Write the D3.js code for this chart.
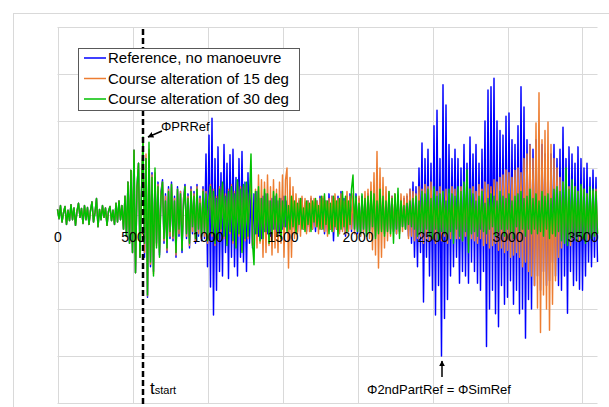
<!DOCTYPE html>
<html>
<head>
<meta charset="utf-8">
<script src="https://cdn.jsdelivr.net/npm/d3@7"></script>
<style>
  body { margin: 0; background: #fff; }
  text { font-family: "Liberation Sans", Arial, sans-serif; }
</style>
</head>
<body>
<div id="chart"></div>
<script>
// sample spacing of the recorded signals (time units on x axis)
const step = 10;
const xTicks = [0, 500, 1000, 1500, 2000, 2500, 3000, 3500];
const yGrid = [-4, -3, -2, -1, 0, 1, 2, 3, 4];
const tStart = 570;
const seriesNames = ["Reference, no manoeuvre", "Course alteration of 15 deg", "Course alteration of 30 deg"];
const seriesColors = ["#0000ff", "#ed7d31", "#00c000"];

// identical for all three runs before tstart (t = 0 .. 560)
const preStart = [
  0.12, -0.08, 0.2, -0.15, 0.05, 0.18, -0.2, 0.1, -0.12, 0.22,
  -0.1, 0.15, -0.22, 0.08, 0.25, -0.05, 0.14, -0.18, 0.2, -0.1,
  0.16, -0.2, 0.1, 0.28, -0.15, 0.05, 0.35, -0.25, 0.12, -0.1,
  0.2, -0.05, 0.15, -0.22, 0.08, 0.18, -0.12, 0.1, -0.2, 0.25,
  -0.15, 0.3, -0.1, 0.2, -0.3, 0.4, -0.45, 0.7, -0.6, 0.95,
  -0.8, 1.38, -1.23, 0.6, 1.1, -0.9, 0.5
];

// t = 570 .. 3600
const blueAfter = [
  1.5, -0.9, 1.2, -1.75, 1.3, -1.1, 0.9, -1.2, 0.8, -0.6,
  0.7, -0.85, 0.5, 0.75, -0.6, 0.45, -0.8, 0.6, -0.5, 0.7,
  -0.55, 0.4, -0.9, 0.6, -0.45, 0.5, -0.8, 0.35, 0.65, -0.5,
  0.45, -0.7, 0.6, -0.4, 0.5, -0.6, 0.65, -0.45, 0.4, -0.55,
  0.6, -0.5, 1.3, -1.1, 1.7, -1.53, 2.06, -2.13, 1.2, -1.6,
  1.45, -1.2, 0.9, -1.3, 1.5, -0.8, 1.1, -1.35, 1.28, -0.9,
  1.4, -1.1, 0.8, -1.3, 1.2, -0.9, 1.35, -1.0, 0.7, -1.2,
  0.9, -0.6, 0.5, -0.7, 0.45, -0.4, 0.5, -0.45, 0.35, -0.5,
  0.4, -0.35, 0.45, -0.4, 0.3, -0.45, 0.35, -0.3, 0.4, -0.35,
  0.3, -0.4, 0.35, -0.3, 0.4, -0.25, 0.3, -0.35, 0.25, -0.3,
  0.35, -0.3, 0.25, -0.35, 0.3, -0.2, 0.35, -0.3, 0.25, -0.35,
  0.3, -0.25, 0.35, -0.3, 0.25, -0.35, 0.3, -0.2, 0.4, -0.3,
  0.35, -0.4, 0.3, -0.35, 0.45, -0.3, 0.4, -0.55, 0.35, -0.3,
  0.4, -0.35, 0.5, -0.3, 0.35, -0.45, 0.4, -0.3, 0.45, -0.35,
  0.4, -0.3, 0.45, -0.4, 0.35, -0.45, 0.4, -0.35, 0.3, -0.4,
  0.45, -0.35, 0.4, -0.3, 0.35, -0.45, 0.4, -0.35, 0.45, -0.3,
  0.35, -0.4, 0.3, -0.35, 0.45, -0.3, 0.4, -0.35, 0.3, -0.4,
  0.4, -0.35, 0.3, -0.25, 0.35, -0.3, 0.4, -0.45, 0.55, -0.6,
  0.7, -0.9, 0.6, -1.1, 1.0, -0.8, 1.53, -1.85, 1.2, -0.9,
  1.4, -1.3, 1.1, -1.6, 1.9, -2.13, 2.23, -1.5, 1.2, -3.0,
  2.77, -2.2, 2.34, -1.8, 1.5, -1.3, 1.2, -1.1, 1.4, -0.9,
  1.2, -1.45, 1.0, -1.2, 1.5, -1.3, 1.1, -1.45, 1.66, -1.0,
  1.3, -1.2, 1.5, -1.45, 1.1, -1.6, 1.4, -1.2, 2.0, -2.8,
  2.66, -2.0, 2.73, -1.6, 2.91, -2.1, 2.0, -2.38, 1.8, -1.5,
  1.7, -1.9, 2.1, -1.75, 2.17, -1.4, 1.6, -1.9, 1.5, -1.6,
  1.9, -2.1, 2.73, -2.0, 2.3, -2.62, 1.6, -1.8, 1.5, -2.0,
  1.4, -1.5, 1.6, -1.3, 1.2, -1.6, 1.5, -1.2, 1.3, -1.5,
  1.1, -1.4, 1.3, -1.0, 1.5, -1.3, 1.2, -1.5, 1.4, -1.6,
  1.87, -1.3, 1.2, -2.09, 1.45, -1.2, 1.3, -1.5, 1.1, -1.4,
  1.45, -1.58, 1.2, -1.6, 1.0, -1.3, 1.1, -1.0, 0.8, -1.1,
  0.96, -0.9, 0.8, -1.0
];

const orangeAfter = [
  1.6, -0.8, 1.3, -1.72, 1.4, -1.05, 0.85, -1.25, 0.9, -0.65,
  0.65, -0.8, 0.45, 0.7, -0.55, 0.4, -0.75, 0.55, -0.45, 0.65,
  -0.5, 0.35, -0.85, 0.55, -0.4, 0.5, -0.7, 0.3, 0.6, -0.45,
  0.4, -0.65, 0.55, -0.35, 0.45, -0.55, 0.6, -0.4, 0.35, -0.5,
  0.55, -0.45, 0.5, -0.6, 0.35, 0.65, -0.45, 0.55, -0.65, 0.4,
  -0.55, 0.6, -0.35, 0.65, -0.5, 0.45, -0.6, 0.55, -0.4, 0.65,
  -0.6, 0.5, -0.65, 0.7, -0.45, 0.6, -0.75, 0.6, -0.55, 0.65,
  -0.5, 0.45, 0.7, -0.65, -0.6, 0.55, -0.7, 0.85, -0.6, 0.75,
  -0.9, 0.7, -0.8, 0.85, -0.65, 0.6, -0.85, 0.75, -0.7, 0.55,
  -0.8, 0.7, -0.6, 0.85, -0.9, 0.75, 1.0, -1.13, 0.8, -0.9,
  0.6, -0.5, 0.45, -0.4, 0.35, -0.45, 0.4, -0.3, 0.35, -0.4,
  0.3, -0.35, 0.4, -0.3, 0.35, -0.25, 0.3, -0.4, 0.35, -0.3,
  0.4, -0.35, 0.3, -0.45, 0.35, -0.3, 0.4, -0.35, 0.45, -0.3,
  0.35, -0.4, 0.45, -0.35, 0.3, -0.4, 0.5, -0.35, 0.4, -0.3,
  0.45, -0.4, 0.35, -0.3, 0.4, -0.45, 0.35, -0.4, 0.5, -0.45,
  0.55, -0.5, 0.7, -0.74, 0.9, -0.85, 1.35, -1.13, 1.0, -0.9,
  0.8, -0.7, 0.6, -0.55, 0.5, -0.45, 0.4, -0.35, 0.45, -0.4,
  0.35, -0.4, 0.45, -0.35, 0.4, -0.3, 0.45, -0.5, 0.55, -0.45,
  0.5, -0.55, 0.45, -0.5, 0.6, -0.45, 0.55, -0.6, 0.65, -0.5,
  0.6, -0.55, 0.7, -0.5, 0.55, -0.6, 0.5, -0.45, 0.6, -0.55,
  0.5, -0.45, 0.55, -0.6, 0.45, -0.5, 0.6, -0.4, 0.55, -0.5,
  0.45, -0.5, 0.6, -0.55, 0.5, -0.45, 0.65, -0.6, 0.55, -0.5,
  0.6, -0.55, 0.5, -0.6, 0.65, -0.5, 0.55, -0.65, 0.7, -0.6,
  0.65, -0.7, 0.6, -0.65, 0.75, -0.6, 0.7, -0.75, 0.8, -0.7,
  0.85, -0.8, 0.96, -0.75, 0.9, -0.9, 0.8, -0.85, 0.95, -0.8,
  1.0, -0.9, 0.9, -1.1, 1.2, -1.0, 1.3, -1.2, 1.49, -1.3,
  1.2, -1.5, 1.96, -1.98, 2.6, -2.5, 1.6, -1.7, 1.8, -2.0,
  1.98, -2.45, 1.5, -1.9, 1.2, -1.4, 1.0, -0.9, 0.8, -0.7,
  0.7, -0.6, 0.65, -0.55, 0.6, -0.65, 0.55, -0.5, 0.6, -0.55,
  0.5, -0.55, 0.6, -0.45, 0.55, -0.5, 0.45, -0.55, 0.5, -0.45,
  0.5, -0.45, 0.55, -0.4
];

const greenAfter = [
  1.66, -0.6, 1.2, -1.7, 1.55, -1.0, 0.8, -1.3, 1.0, -0.7,
  0.6, -0.9, 0.4, 0.7, -0.5, 0.3, -0.7, 0.5, -0.35, 0.65,
  -0.45, 0.3, -0.8, 0.55, -0.3, 0.45, -0.75, 0.2, 0.6, -0.4,
  0.35, -0.6, 0.5, -0.25, 0.4, -0.5, 0.55, -0.3, 0.25, -0.45,
  0.5, -0.35, 0.45, -0.55, 0.3, 0.6, -0.4, 0.5, -0.6, 0.35,
  -0.5, 0.55, -0.3, 0.7, -0.45, 0.4, -0.65, 0.5, -0.35, 0.6,
  -0.55, 0.45, -0.7, 0.75, -0.4, 0.55, -0.8, 0.65, -0.5, 0.7,
  -0.45, 0.4, 1.3, -0.6, -1.06, 0.5, -0.4, 0.6, -0.55, 0.35,
  -0.5, 0.55, -0.35, 0.45, -0.6, 0.3, -0.4, 0.5, -0.3, 0.45,
  -0.4, 0.35, -0.5, 0.3, -0.25, 0.4, -0.35, 0.2, -0.3, 0.4,
  -0.25, 0.3, -0.4, 0.25, -0.2, 0.35, -0.3, 0.15, -0.35, 0.3,
  -0.2, 0.25, -0.35, 0.3, -0.15, 0.35, -0.25, 0.2, -0.3, 0.4,
  -0.3, 0.45, -0.2, 0.3, -0.4, 0.25, -0.35, 0.4, -0.25, 0.3,
  -0.45, 0.35, -0.3, 0.5, -0.25, 0.4, -0.35, 0.3, -0.2, 0.55,
  0.85, -0.3, 0.4, -0.35, 0.25, -0.4, 0.45, -0.3, 0.35, -0.45,
  0.4, -0.35, 0.5, -0.25, 0.45, -0.5, 0.3, -0.4, 0.55, -0.35,
  0.4, -0.45, 0.3, -0.35, 0.5, -0.4, 0.35, -0.6, 0.45, -0.3,
  0.57, -0.5, 0.3, -0.25, 0.2, -0.3, 0.25, -0.2, 0.3, -0.25,
  0.35, -0.3, 0.4, -0.45, 0.3, -0.35, 0.5, -0.4, 0.45, -0.3,
  0.55, -0.45, 0.35, -0.5, 0.6, -0.3, 0.4, -0.55, 0.45, -0.35,
  0.5, -0.4, 0.3, -0.5, 0.55, -0.35, 0.45, -0.6, 0.4, -0.3,
  0.6, -0.45, 0.5, -0.55, 0.7, -0.35, 0.96, -0.8, 0.55, -0.4,
  0.45, -0.35, 0.3, -0.45, 0.4, -0.3, 0.5, -0.35, 0.25, -0.4,
  0.35, -0.3, 0.45, -0.25, 0.4, -0.45, 0.3, -0.35, 0.5, -0.3,
  0.4, -0.45, 0.35, -0.3, 0.45, -0.35, 0.3, -0.5, 0.4, -0.25,
  0.45, -0.35, 0.5, -0.3, 0.35, -0.45, 0.4, -0.3, 0.55, -0.4,
  0.35, -0.3, 0.45, -0.4, 0.3, -0.35, 0.5, -0.45, 0.4, -0.3,
  0.45, -0.5, 0.35, -0.4, 0.55, -0.45, 0.6, -0.35, 0.5, -0.55,
  0.7, -0.6, 1.0, -0.65, 0.55, -0.5, 0.75, -0.45, 0.6, -0.55,
  0.5, -0.45, 0.65, -0.5, 0.55, -0.6, 0.45, -0.4, 0.6, -0.5,
  0.55, -0.45, 0.5, -0.4
];

const series = [
  preStart.concat(blueAfter),
  preStart.concat(orangeAfter),
  preStart.concat(greenAfter)
];

const W = 609, H = 407;
const margin = {left: 57.5, right: 11.5, top: 27, bottom: 4};

const svg = d3.select("#chart").append("svg")
  .attr("width", W).attr("height", H);

// chart area frame
svg.append("rect")
  .attr("x", 13.5).attr("y", 13.5)
  .attr("width", 596).attr("height", 400)
  .attr("fill", "#fff").attr("stroke", "#d9d9d9");

const x = d3.scaleLinear().domain([0, 3600]).range([margin.left, W - margin.right]);
const y = d3.scaleLinear().domain([-4, 4]).range([H - margin.bottom, margin.top]);

// gridlines
svg.append("g").selectAll("line").data(yGrid).enter().append("line")
  .attr("x1", x(0)).attr("x2", x(3600))
  .attr("y1", d => Math.round(y(d)) + 0.5).attr("y2", d => Math.round(y(d)) + 0.5)
  .attr("stroke", "#d9d9d9");
svg.append("g").selectAll("line").data(xTicks).enter().append("line")
  .attr("x1", d => Math.round(x(d)) + 0.5).attr("x2", d => Math.round(x(d)) + 0.5)
  .attr("y1", y(4)).attr("y2", y(-4))
  .attr("stroke", "#d9d9d9");

const line = d3.line()
  .x((d, i) => x(i * step))
  .y(d => y(d));

series.forEach((s, k) => {
  svg.append("path")
    .datum(s)
    .attr("d", line)
    .attr("fill", "none")
    .attr("stroke", seriesColors[k])
    .attr("stroke-width", 1.45)
    .attr("stroke-linejoin", "round");
});

// x axis labels sit on the zero line
const xAxis = svg.append("g")
  .attr("transform", "translate(0," + y(0) + ")")
  .call(d3.axisBottom(x).tickValues(xTicks).tickSize(0).tickPadding(17).tickFormat(d3.format("d")));
xAxis.select(".domain").remove();
xAxis.selectAll("text")
  .style("font-family", "'Liberation Sans', Arial, sans-serif")
  .style("font-size", "14px")
  .attr("fill", "#000");

// tstart marker
svg.append("line")
  .attr("x1", x(tStart)).attr("x2", x(tStart))
  .attr("y1", 29).attr("y2", H)
  .attr("stroke", "#000")
  .attr("stroke-width", 2.5)
  .attr("stroke-dasharray", "6,3");

const tLabel = svg.append("text")
  .attr("x", x(tStart) + 7).attr("y", 394)
  .style("font-size", "17px");
tLabel.append("tspan").text("t");
tLabel.append("tspan").style("font-size", "11px").text("start");

// legend
const legend = svg.append("g");
legend.append("rect")
  .attr("x", 78.5).attr("y", 48.5)
  .attr("width", 221).attr("height", 62)
  .attr("fill", "#fff").attr("stroke", "#595959");
seriesNames.forEach((name, k) => {
  const ly = 58 + k * 20.5;
  legend.append("line")
    .attr("x1", 84).attr("x2", 106)
    .attr("y1", ly).attr("y2", ly)
    .attr("stroke", seriesColors[k]).attr("stroke-width", 1.5);
  legend.append("text")
    .attr("x", 108).attr("y", ly + 5)
    .style("font-size", "15px")
    .text(name);
});

// annotations
svg.append("defs").append("marker")
  .attr("id", "head")
  .attr("viewBox", "0 0 10 10")
  .attr("refX", 9).attr("refY", 5)
  .attr("markerWidth", 4).attr("markerHeight", 4)
  .attr("orient", "auto")
  .append("path").attr("d", "M0,0L10,5L0,10Z").attr("fill", "#000");

svg.append("line")
  .attr("x1", 162).attr("x2", 148)
  .attr("y1", 131).attr("y2", 137)
  .attr("stroke", "#000").attr("stroke-width", 1.5)
  .attr("marker-end", "url(#head)");
svg.append("text")
  .attr("x", 161).attr("y", 131)
  .style("font-size", "13px")
  .text("ΦPRRef");

svg.append("line")
  .attr("x1", 442).attr("x2", 442)
  .attr("y1", 377).attr("y2", 361)
  .attr("stroke", "#000").attr("stroke-width", 1.5)
  .attr("marker-end", "url(#head)");
svg.append("text")
  .attr("x", 439).attr("y", 394)
  .attr("text-anchor", "middle")
  .style("font-size", "13px")
  .text("Φ2ndPartRef = ΦSimRef");
</script>
</body>
</html>
